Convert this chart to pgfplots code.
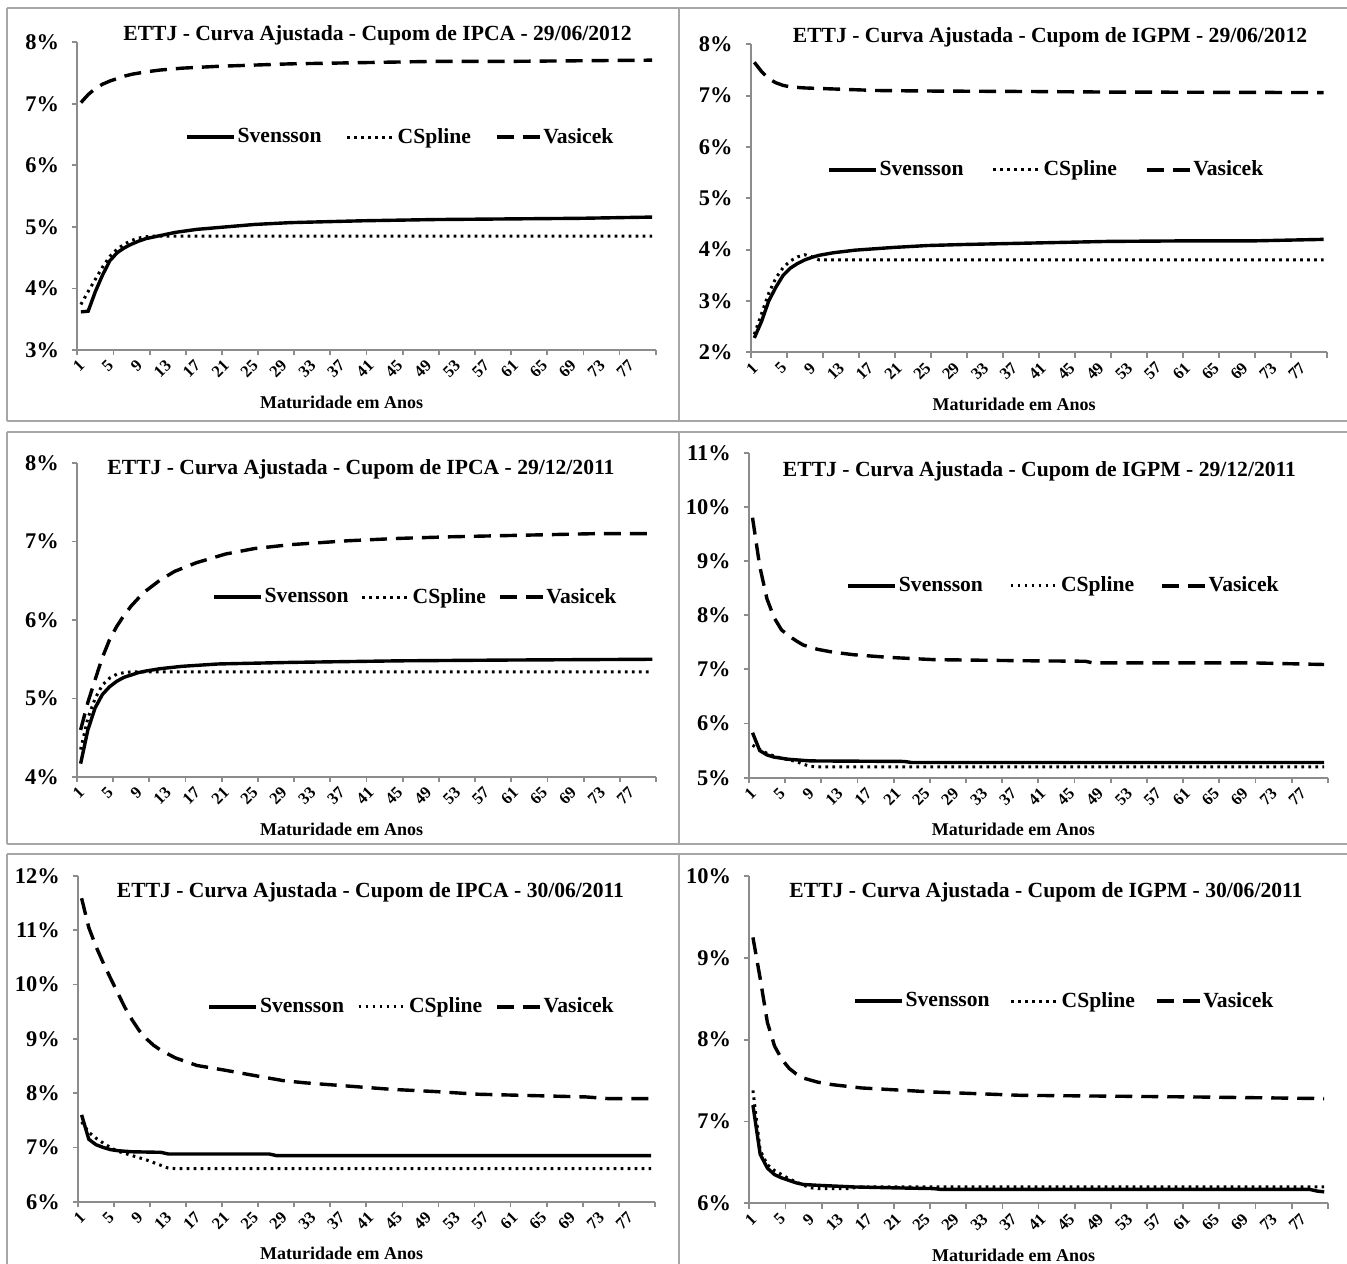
\documentclass[border=0pt]{standalone}
\usepackage{fontspec}
\setmainfont{Liberation Serif}
\usepackage{pgfplots}
\pgfplotsset{compat=1.18}
\definecolor{axisgray}{HTML}{8C8C8C}
\definecolor{framegray}{HTML}{A6A6A6}
\pgfplotsset{
 panel/.style={
  scale only axis,
  axis lines*=left, tick align=outside,
  xmin=0.5, xmax=80.5,
  /pgf/number format/assume math mode=true,
  axis line style={draw=axisgray, line width=0.9pt},
  xtick={1,5,...,77}, major x tick style={draw=none},
  minor xtick={0.5,5.5,...,80.5}, minor x tick style={draw=axisgray, line width=0.9pt},
  minor tick length=2.6pt, major tick length=2.6pt,
  ytick style={draw=axisgray, line width=0.9pt},
  yticklabel={\pgfmathprintnumber{\tick}\%},
  yticklabel style={font=\bfseries\fontsize{11.2}{12}\selectfont, xshift=-3pt},
  xticklabel style={font=\bfseries\fontsize{8.3}{9}\selectfont, rotate=45, anchor=east, yshift=-3pt, xshift=1pt},
  xlabel={Maturidade em Anos},
  xlabel style={font=\bfseries\fontsize{9}{10}\selectfont, at={(axis description cs:0.457,0)}, anchor=center, yshift=-26pt},
  legend columns=3,
  legend style={draw=none, fill=none, inner sep=0pt, anchor=west, font=\bfseries\fontsize{10.8}{12}\selectfont, nodes={inner sep=1pt}},
  legend image code/.code={\draw[##1] (0pt,0pt) -- (23.5pt,0pt);},
  clip=false,
 },
 sv/.style={black, line width=1.7pt},
 cs/.style={black, line width=1.5pt, dash pattern=on 1.3pt off 2.2pt},
 va/.style={black, line width=1.7pt, dash pattern=on 8.5pt off 4.5pt,
   legend image code/.code={\draw[##1] (0pt,0pt) -- (21.5pt,0pt);}},
}
\newcommand{\ttl}[1]{\bfseries\fontsize{10.8}{12}\selectfont #1}
\begin{document}
\begin{tikzpicture}
\useasboundingbox (0,0) rectangle (673.5pt,-631.5pt);
\begin{scope}[x=0.5pt,y=-0.5pt]
\draw[framegray, line width=1.3pt] (7,8)--(1350,8) (7,421)--(1350,421) (7,432)--(1350,432) (7,844)--(1350,844) (7,854)--(1350,854)
 (7,8)--(7,421) (679,8)--(679,421) (7,432)--(7,844) (679,432)--(679,844) (7,854)--(7,1270) (679,854)--(679,1270);
\end{scope}

% Panel 1
\begin{axis}[panel, at={(38.65pt,-175pt)}, anchor=south west, width=289.2pt, height=153.85pt,
 ymin=3, ymax=8, ytick={3,...,8},
 legend style={at={(0.186,0.692)}, /tikz/every even column/.append style={column sep=11pt}}]
\addplot[sv] coordinates {(1,3.62)(2,3.63)(3,3.95)(4,4.22)(5,4.45)(6,4.58)(7,4.66)(8,4.72)(9,4.77)(10,4.81)(12,4.86)(14,4.91)(17,4.96)(21,5.00)(25,5.04)(30,5.07)(40,5.10)(50,5.12)(60,5.13)(70,5.14)(80,5.16)};
\addplot[cs] coordinates {(1,3.74)(2,3.95)(3,4.15)(4,4.35)(5,4.52)(6,4.64)(7,4.72)(8,4.78)(9,4.82)(10,4.84)(11,4.85)(80,4.85)};
\addplot[va] coordinates {(1,7.02)(2,7.15)(3,7.25)(4,7.32)(5,7.37)(6,7.41)(7,7.45)(8,7.48)(9,7.50)(10,7.52)(12,7.55)(15,7.58)(20,7.61)(25,7.63)(30,7.65)(40,7.67)(50,7.69)(60,7.69)(70,7.70)(80,7.71)};
\legend{Svensson,CSpline,Vasicek}
\end{axis}

% Panel 2
\begin{axis}[panel, at={(375.35pt,-176.15pt)}, anchor=south west, width=288.25pt, height=154pt,
 ymin=2, ymax=8, ytick={2,...,8},
 legend style={at={(0.132,0.592)}, /tikz/every even column/.append style={column sep=13pt}}]
\addplot[sv] coordinates {(1,2.28)(2,2.60)(3,3.00)(4,3.27)(5,3.50)(6,3.64)(7,3.73)(8,3.80)(9,3.85)(10,3.89)(12,3.94)(15,3.99)(20,4.04)(25,4.08)(30,4.10)(40,4.13)(50,4.16)(60,4.17)(70,4.17)(80,4.20)};
\addplot[cs] coordinates {(1,2.35)(2,2.75)(3,3.15)(4,3.45)(5,3.65)(6,3.78)(7,3.86)(8,3.90)(9,3.86)(10,3.80)(80,3.80)};
\addplot[va] coordinates {(1,7.65)(2,7.47)(3,7.33)(4,7.25)(5,7.20)(6,7.17)(7,7.16)(8,7.15)(10,7.14)(14,7.12)(18,7.10)(25,7.09)(40,7.08)(50,7.07)(80,7.06)};
\legend{Svensson,CSpline,Vasicek}
\end{axis}

% Panel 3
\begin{axis}[panel, at={(38.5pt,-388.5pt)}, anchor=south west, width=289.5pt, height=157pt,
 ymin=4, ymax=8, ytick={4,...,8},
 legend style={at={(0.233,0.573)}, /tikz/every even column/.append style={column sep=5pt}}]
\addplot[sv] coordinates {(1,4.17)(2,4.60)(3,4.88)(4,5.05)(5,5.15)(6,5.22)(7,5.27)(8,5.30)(9,5.33)(10,5.35)(12,5.38)(15,5.41)(20,5.44)(30,5.46)(45,5.48)(60,5.49)(80,5.50)};
\addplot[cs] coordinates {(1,4.35)(2,4.75)(3,5.00)(4,5.17)(5,5.26)(6,5.31)(7,5.33)(8,5.34)(80,5.34)};
\addplot[va] coordinates {(1,4.60)(2,4.95)(3,5.24)(4,5.52)(5,5.75)(6,5.92)(7,6.06)(8,6.18)(9,6.28)(10,6.37)(12,6.51)(14,6.62)(17,6.73)(21,6.84)(25,6.91)(30,6.96)(38,7.01)(45,7.04)(52,7.06)(62,7.08)(72,7.10)(80,7.10)};
\legend{Svensson,CSpline,Vasicek}
\end{axis}

% Panel 4
\begin{axis}[panel, at={(374.45pt,-388.85pt)}, anchor=south west, width=289.45pt, height=162.5pt,
 ymin=5, ymax=11, ytick={5,...,11},
 legend style={at={(0.168,0.590)}, /tikz/every even column/.append style={column sep=12pt}}]
\addplot[sv] coordinates {(1,5.83)(2,5.50)(3,5.42)(4,5.38)(5,5.36)(6,5.34)(7,5.33)(9,5.31)(22,5.30)(23,5.28)(80,5.28)};
\addplot[cs] coordinates {(1,5.60)(2,5.52)(3,5.45)(4,5.40)(5,5.36)(6,5.33)(7,5.30)(8,5.25)(9,5.21)(10,5.20)(80,5.20)};
\addplot[va] coordinates {(1,9.80)(2,8.90)(3,8.30)(4,7.95)(5,7.73)(6,7.62)(7,7.53)(8,7.45)(9,7.41)(10,7.37)(12,7.32)(15,7.27)(20,7.22)(26,7.18)(38,7.16)(47,7.15)(48,7.12)(70,7.12)(80,7.09)};
\legend{Svensson,CSpline,Vasicek}
\end{axis}

% Panel 5
\begin{axis}[panel, at={(39pt,-600.85pt)}, anchor=south west, width=288.4pt, height=162.85pt,
 ymin=6, ymax=12, ytick={6,...,12},
 legend style={at={(0.224,0.598)}, /tikz/every even column/.append style={column sep=5.5pt}}]
\addplot[sv] coordinates {(1,7.60)(2,7.15)(3,7.05)(4,7.00)(5,6.96)(6,6.94)(7,6.93)(8,6.92)(12,6.91)(13,6.88)(27,6.88)(28,6.85)(80,6.85)};
\addplot[cs] coordinates {(1,7.47)(2,7.28)(3,7.17)(4,7.08)(5,7.00)(6,6.93)(7,6.89)(8,6.85)(9,6.81)(10,6.77)(11,6.72)(12,6.67)(13,6.62)(14,6.61)(80,6.61)};
\addplot[va] coordinates {(1,11.59)(2,11.05)(3,10.70)(4,10.40)(5,10.12)(6,9.85)(7,9.58)(8,9.35)(9,9.15)(10,9.00)(11,8.88)(12,8.79)(14,8.65)(17,8.51)(21,8.42)(26,8.30)(29,8.23)(32,8.19)(38,8.13)(44,8.07)(50,8.03)(56,7.98)(62,7.96)(71,7.93)(74,7.90)(80,7.90)};
\legend{Svensson,CSpline,Vasicek}
\end{axis}

% Panel 6
\begin{axis}[panel, at={(374.65pt,-601.65pt)}, anchor=south west, width=289.25pt, height=163.65pt,
 ymin=6, ymax=10, ytick={6,...,10},
 legend style={at={(0.179,0.618)}, /tikz/every even column/.append style={column sep=9pt}}]
\addplot[sv] coordinates {(1,7.20)(2,6.60)(3,6.43)(4,6.35)(5,6.31)(6,6.28)(7,6.25)(8,6.23)(10,6.22)(15,6.20)(20,6.19)(26,6.18)(27,6.17)(78,6.17)(79,6.15)(80,6.14)};
\addplot[cs] coordinates {(1,7.38)(2,6.65)(3,6.47)(4,6.40)(5,6.35)(6,6.30)(7,6.26)(8,6.22)(9,6.19)(10,6.18)(14,6.18)(16,6.20)(80,6.20)};
\addplot[va] coordinates {(1,9.25)(2,8.75)(3,8.21)(4,7.92)(5,7.76)(6,7.65)(7,7.58)(8,7.53)(10,7.48)(12,7.45)(16,7.41)(20,7.39)(26,7.36)(32,7.34)(38,7.32)(50,7.31)(62,7.30)(80,7.28)};
\legend{Svensson,CSpline,Vasicek}
\end{axis}

\begin{scope}[x=0.5pt,y=-0.5pt]
\node[anchor=base] at (377.5,41) {\ttl{ETTJ - Curva Ajustada - Cupom de IPCA - 29/06/2012}};
\node[anchor=base] at (1050,43) {\ttl{ETTJ - Curva Ajustada - Cupom de IGPM - 29/06/2012}};
\node[anchor=base] at (361,474) {\ttl{ETTJ - Curva Ajustada - Cupom de IPCA - 29/12/2011}};
\node[anchor=base] at (1039.5,476) {\ttl{ETTJ - Curva Ajustada - Cupom de IGPM - 29/12/2011}};
\node[anchor=base] at (370.5,897) {\ttl{ETTJ - Curva Ajustada - Cupom de IPCA - 30/06/2011}};
\node[anchor=base] at (1046,897) {\ttl{ETTJ - Curva Ajustada - Cupom de IGPM - 30/06/2011}};
\end{scope}
\end{tikzpicture}
\end{document}
